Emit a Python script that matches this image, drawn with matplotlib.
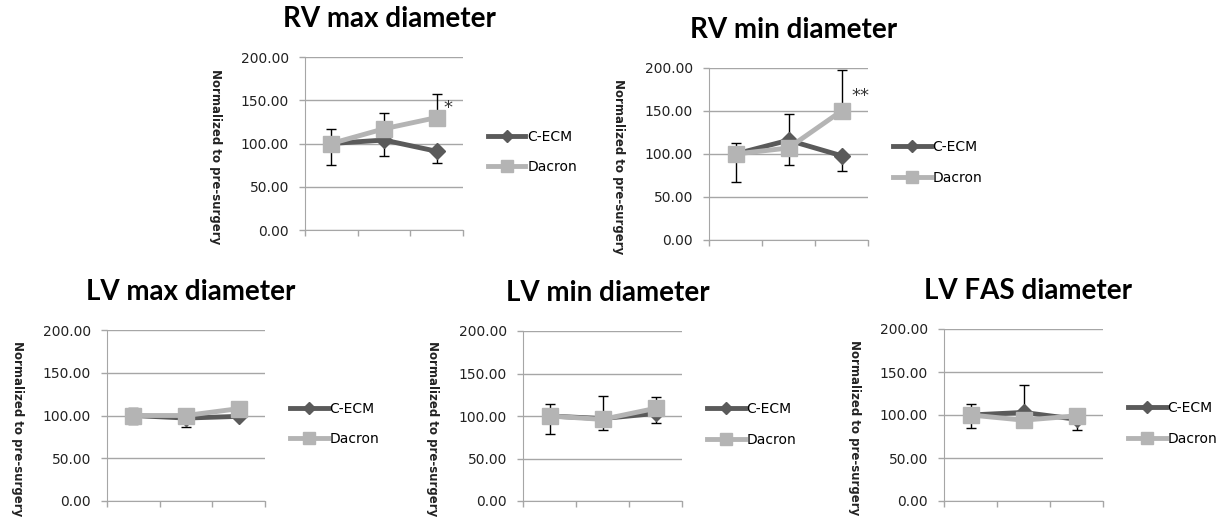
import matplotlib
matplotlib.use("Agg")
import matplotlib.pyplot as plt
import numpy as np

W, H = 1231, 527

series = ["C-ECM", "Dacron"]
timepoints = [1, 2, 3]

titles = ["RV max diameter", "RV min diameter",
          "LV max diameter", "LV min diameter", "LV FAS diameter"]

# means, normalized to pre-surgery (%)
cecm = [
    [100, 104, 91],
    [100, 116, 98],
    [100, 97, 99],
    [100, 97, 103],
    [100, 103, 95],
]
dacron = [
    [100, 117, 130],
    [100, 107, 150],
    [100, 100, 108],
    [100, 96, 109],
    [100, 94, 99],
]
# error bar lengths as drawn (0 = not visible)
cecm_lo = [
    [25, 19, 13],
    [33, 29, 18],
    [10, 10, 2],
    [21, 13, 11],
    [15, 0, 13],
]
cecm_hi = [
    [0, 0, 0],
    [0, 31, 0],
    [0, 0, 0],
    [0, 0, 0],
    [0, 32, 0],
]
dacron_lo = [
    [0, 0, 0],
    [0, 0, 0],
    [0, 0, 0],
    [0, 0, 0],
    [0, 0, 0],
]
dacron_hi = [
    [17, 18, 27],
    [13, 0, 48],
    [9, 2, 2],
    [14, 27, 13],
    [13, 0, 2],
]
stars = ["*", "**", "", "", ""]
star_pos = [(3.22, 141), (3.35, 167), None, None, None]

# panel boxes in pixels: left, right, top, bottom
boxes = [
    (305, 463, 57, 230),
    (709, 868, 68, 240),
    (107, 265, 330, 501),
    (523, 682, 331, 501),
    (944, 1103, 329, 501),
]

DARK = "#5a5a5a"
LIGHT = "#b4b4b4"
GRID = "#a6a6a6"

fig = plt.figure(figsize=(W / 100, H / 100), dpi=100)

for i, (l, r, t, b) in enumerate(boxes):
    ax = fig.add_axes([l / W, 1 - b / H, (r - l) / W, (b - t) / H])
    x = np.array(timepoints)
    ax.errorbar(x, cecm[i], yerr=[cecm_lo[i], cecm_hi[i]], fmt="none",
                ecolor="black", elinewidth=1, capsize=3.5, capthick=1, zorder=2)
    ax.errorbar(x, dacron[i], yerr=[dacron_lo[i], dacron_hi[i]], fmt="none",
                ecolor="black", elinewidth=1, capsize=3.5, capthick=1, zorder=2)
    ax.plot(x, cecm[i], color=DARK, lw=3.5, marker="D", ms=8,
            mfc=DARK, mec=DARK, label=series[0], zorder=3)
    ax.plot(x, dacron[i], color=LIGHT, lw=3.5, marker="s", ms=11,
            mfc=LIGHT, mec=LIGHT, label=series[1], zorder=4)

    ax.set_xlim(0.5, 3.5)
    ax.set_ylim(0, 200)
    ax.set_yticks([0, 50, 100, 150, 200])
    ax.set_yticklabels(["%.2f" % v for v in [0, 50, 100, 150, 200]])
    ax.set_xticks([0.5, 1.5, 2.5, 3.5])
    ax.set_xticklabels([])
    ax.grid(axis="y", color=GRID, lw=1)
    ax.set_axisbelow(True)
    for s in ["top", "right"]:
        ax.spines[s].set_visible(False)
    for s in ["left", "bottom"]:
        ax.spines[s].set_color(GRID)
    ax.tick_params(axis="both", color=GRID, length=4.5, width=1)
    ax.tick_params(axis="y", labelsize=10, pad=7, labelcolor="#222222")

    pw, ph = r - l, b - t
    ax.text(0.5 + 5 / pw, 1 + 38 / ph, titles[i], transform=ax.transAxes,
            ha="center", va="center", fontsize=20, fontweight="bold",
            family="Lato")
    ax.text(-90 / pw, 0.5 - 13 / ph, "Normalized to pre-surgery",
            transform=ax.transAxes, rotation=270, ha="center", va="center",
            fontsize=8.5, fontweight="bold", color="#222222")
    if stars[i]:
        ax.text(star_pos[i][0], star_pos[i][1], stars[i], ha="center",
                va="center", fontsize=13, color="#333333")

    ax.legend(loc="center left", bbox_to_anchor=(1 + 25 / pw, 0.5 - 8.5 / ph),
              frameon=False, fontsize=10, handlelength=2.7, handletextpad=0.15,
              labelspacing=1.2, borderpad=0, borderaxespad=0, markerscale=0.75)

fig.savefig("out.png", dpi=100)
